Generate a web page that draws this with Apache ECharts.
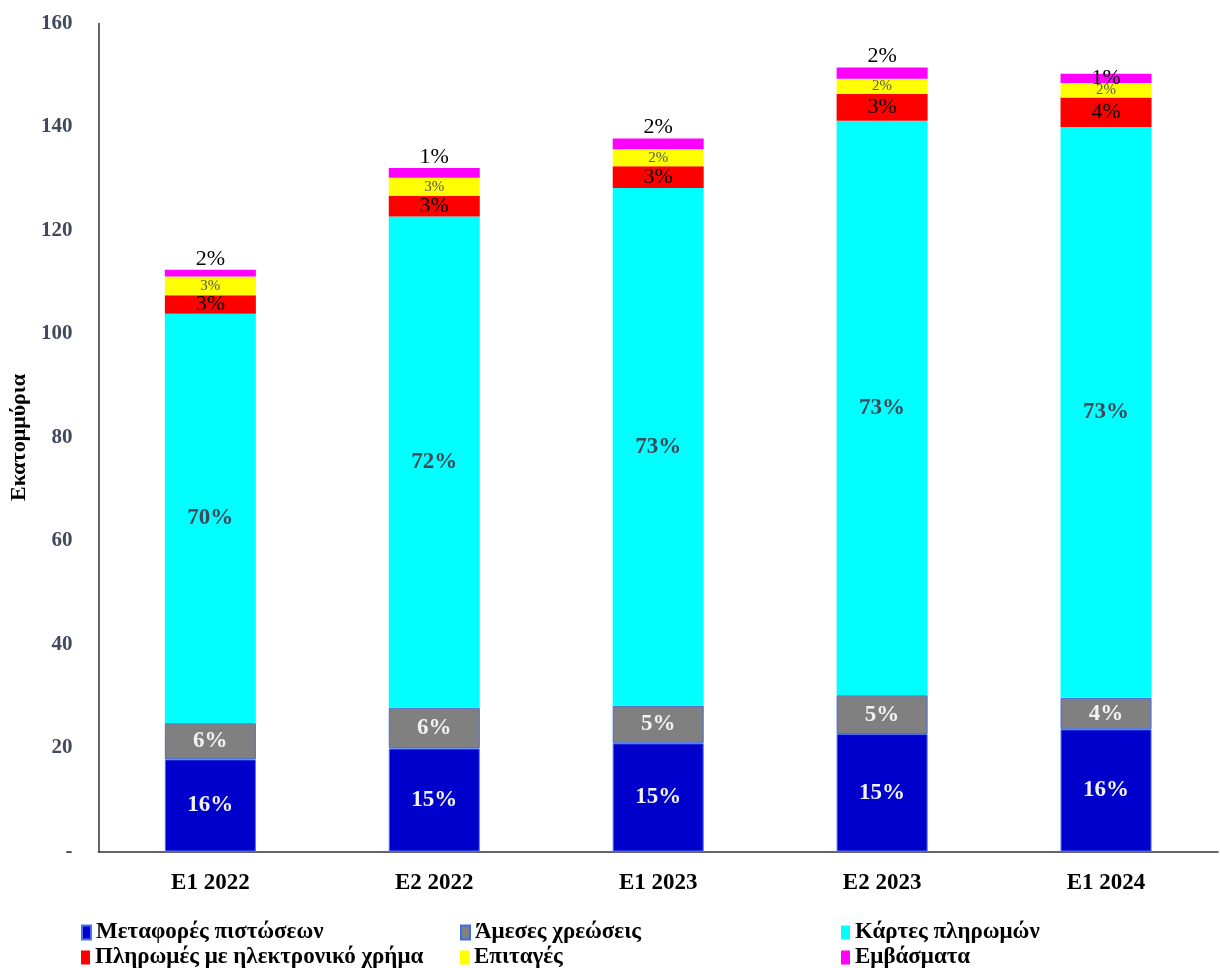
<!DOCTYPE html>
<html><head><meta charset="utf-8">
<script src="https://cdn.jsdelivr.net/npm/echarts@6/dist/echarts.min.js"></script>
<style>html,body{margin:0;padding:0;background:#fff}#c{width:1220px;height:968px}</style>
</head><body><div id="c"></div>
<script>
const categories = ['E1 2022', 'E2 2022', 'E1 2023', 'E2 2023', 'E1 2024'];
const seriesNames = ['Μεταφορές πιστώσεων', 'Άμεσες χρεώσεις', 'Κάρτες πληρωμών', 'Πληρωμές με ηλεκτρονικό χρήμα', 'Επιταγές', 'Εμβάσματα'];
const creditTransfers = [17.8, 19.9, 20.9, 22.7, 23.6];
const directDebits = [7.0, 7.9, 7.3, 7.5, 6.1];
const cards = [79.1, 94.9, 100.0, 111.0, 110.3];
const eMoney = [3.6, 4.0, 4.2, 5.2, 5.7];
const cheques = [3.6, 3.5, 3.3, 2.9, 2.8];
const remittances = [1.3, 1.9, 2.1, 2.2, 1.8];
const creditLabels = ['16%', '15%', '15%', '15%', '16%'];
const debitLabels = ['6%', '6%', '5%', '5%', '4%'];
const cardLabels = ['70%', '72%', '73%', '73%', '73%'];
const eMoneyLabels = ['3%', '3%', '3%', '3%', '4%'];
const chequeLabels = ['3%', '3%', '2%', '2%', '2%'];
const remitLabels = ['2%', '1%', '2%', '2%', '1%'];
const yTicks = [0, 20, 40, 60, 80, 100, 120, 140, 160];

const F = 'Liberation Serif, Times New Roman, serif';
const colors = ['#0000CC', '#808080', '#00FFFF', '#FF0000', '#FFFF00', '#FF00FF'];
const values = [creditTransfers, directDebits, cards, eMoney, cheques, remittances];
const labels = [creditLabels, debitLabels, cardLabels, eMoneyLabels, chequeLabels, remitLabels];
const labelStyles = [
  {color: '#f2f2f2', fontWeight: 'bold', fontSize: 23, position: 'inside'},
  {color: '#f2f2f2', fontWeight: 'bold', fontSize: 23, position: 'inside'},
  {color: '#3e4858', fontWeight: 'bold', fontSize: 23, position: 'inside'},
  {color: '#000000', fontWeight: 'normal', fontSize: 22, position: 'inside'},
  {color: '#555555', fontWeight: 'normal', fontSize: 15, position: 'inside'},
  {color: '#000000', fontWeight: 'normal', fontSize: 22, position: 'top', distance: 0}
];

const series = seriesNames.map((name, i) => ({
  name, type: 'bar', stack: 'total', barWidth: 91,
  itemStyle: i === 1 ? {color: colors[i], borderColor: '#3a6cf0', borderWidth: 1}
          : i === 0 ? {color: colors[i], borderColor: '#4a70f0', borderWidth: 1}
          : {color: colors[i]},
  label: Object.assign({show: true, fontFamily: F,
    formatter: p => labels[i][p.dataIndex]}, labelStyles[i]),
  data: values[i].map((v, j) => (i === 5 && j === 4) ? {value: v, label: {position: 'inside'}} : v)
}));

const legendPos = [
  {left: 76, top: 916}, {left: 455, top: 916}, {left: 836, top: 916},
  {left: 76, top: 941}, {left: 455, top: 941}, {left: 836, top: 941}
];
const legends = seriesNames.map((n, i) => ({
  data: [n], left: legendPos[i].left, top: legendPos[i].top, orient: 'horizontal',
  itemWidth: 9, itemHeight: 14, itemGap: 4, icon: 'rect',
  textStyle: {fontFamily: F, fontWeight: 'bold', fontSize: 23, color: '#000'}
}));

const chart = echarts.init(document.getElementById('c'));
chart.setOption({
  animation: false,
  backgroundColor: '#fff',
  color: colors,
  legend: legends,
  grid: {left: 98, right: 2, top: 23.5, bottom: 116.5},
  xAxis: {
    type: 'category', data: categories,
    axisLine: {lineStyle: {color: '#333', width: 1.5}},
    axisTick: {show: false},
    axisLabel: {fontFamily: F, fontWeight: 'bold', fontSize: 23, color: '#000', margin: 20}
  },
  yAxis: {
    type: 'value', min: 0, max: 160, interval: 20,
    name: 'Εκατομμύρια', nameLocation: 'middle', nameGap: 68, nameRotate: 90,
    nameTextStyle: {fontFamily: F, fontWeight: 'bold', fontSize: 22, color: '#000'},
    axisLine: {show: true, lineStyle: {color: '#333', width: 1.5}},
    axisTick: {show: false},
    splitLine: {show: false},
    axisLabel: {fontFamily: F, fontWeight: 'bold', fontSize: 21, color: '#404a5c', margin: 26,
      formatter: v => yTicks.indexOf(v) === 0 ? '-' : String(v)}
  },
  series
});
</script></body></html>
